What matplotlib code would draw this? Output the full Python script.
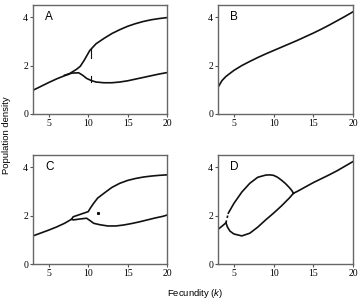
import matplotlib
matplotlib.use('Agg')
import matplotlib.pyplot as plt

plt.rcParams['mathtext.fontset'] = 'custom'
plt.rcParams['mathtext.it'] = 'Liberation Sans:italic'
plt.rcParams['mathtext.rm'] = 'Liberation Sans'

# panel A
a_main_k = [3, 4, 5, 6, 7, 7.5]
a_main_y = [0.98, 1.14, 1.30, 1.45, 1.58, 1.64]
a_up_k = [7.5, 8, 8.5, 9, 9.5, 10.2, 11, 12, 13, 14, 15, 16, 17, 18, 19, 20]
a_up_y = [1.64, 1.74, 1.84, 1.97, 2.22, 2.62, 2.90, 3.12, 3.32, 3.48, 3.62, 3.73, 3.82, 3.89, 3.94, 3.98]
a_lo_k = [7, 7.5, 8, 8.8, 9.3, 9.8, 10.4, 11, 12, 13, 14, 15, 16, 17, 18, 19, 20]
a_lo_y = [1.60, 1.65, 1.69, 1.70, 1.60, 1.47, 1.38, 1.32, 1.29, 1.29, 1.32, 1.37, 1.44, 1.51, 1.58, 1.65, 1.71]
a_bar_k = [10.4, 10.4]
a_bar_up = [2.32, 2.68]
a_bar_lo = [1.32, 1.57]

# panel B
b_k = [3, 3.5, 4, 5, 6, 7, 8, 9, 10, 11, 12, 13, 14, 15, 16, 17, 18, 19, 20]
b_y = [1.10, 1.38, 1.55, 1.80, 2.00, 2.17, 2.33, 2.48, 2.62, 2.76, 2.90, 3.04, 3.19, 3.34, 3.50, 3.67, 3.85, 4.03, 4.22]

# panel C
c_main_k = [3, 4, 5, 6, 7, 7.9]
c_main_y = [1.16, 1.28, 1.40, 1.53, 1.68, 1.85]
c_up_k = [7.9, 8.1, 9, 10, 10.3, 10.7, 11.2, 12, 13, 14, 15, 16, 17, 18, 19, 20]
c_up_y = [1.85, 1.95, 2.05, 2.16, 2.32, 2.51, 2.72, 2.92, 3.16, 3.33, 3.45, 3.53, 3.59, 3.63, 3.66, 3.68]
c_lo_k = [7.9, 8.1, 9, 9.8, 10.2, 10.7, 11.5, 12.5, 13.5, 14.5, 15.5, 16.5, 17.5, 18.5, 19.5, 20]
c_lo_y = [1.85, 1.82, 1.86, 1.89, 1.80, 1.68, 1.62, 1.57, 1.57, 1.61, 1.67, 1.74, 1.82, 1.90, 1.97, 2.02]
c_dot_k = [11.2]
c_dot_y = [2.12]

# panel D
d_main_k = [3, 3.5, 4.0]
d_main_y = [1.43, 1.56, 1.70]
d_dash_k = [4.0, 4.15, 4.3]
d_dash_y = [1.70, 1.90, 2.10]
d_up_k = [4.3, 5, 6, 7, 8, 9, 9.5, 10, 10.5, 11, 11.5, 12, 12.3, 12.5]
d_up_y = [2.10, 2.50, 2.97, 3.33, 3.58, 3.67, 3.68, 3.66, 3.58, 3.46, 3.32, 3.15, 3.03, 2.92]
d_lo_k = [4.0, 4.2, 4.5, 5, 6, 7, 8, 9, 10, 11, 12, 12.5]
d_lo_y = [1.70, 1.52, 1.36, 1.24, 1.16, 1.27, 1.52, 1.82, 2.10, 2.40, 2.73, 2.92]
d_tail_k = [12.5, 13, 14, 15, 16, 17, 18, 19, 20]
d_tail_y = [2.92, 3.00, 3.18, 3.36, 3.52, 3.68, 3.85, 4.04, 4.23]

x_ticks = [5, 10, 15, 20]
y_ticks = [0, 2, 4]
panel_labels = ['A', 'B', 'C', 'D']

lc = '#111111'
lw = 1.2

fig = plt.figure(figsize=(3.62, 3.07), dpi=100)
boxes = [
    [33/362, 1 - 114/307, 134/362, 109/307],
    [218/362, 1 - 114/307, 135/362, 109/307],
    [33/362, 1 - 264/307, 134/362, 109/307],
    [218/362, 1 - 264/307, 135/362, 109/307],
]
axs = [fig.add_axes(b) for b in boxes]

ax = axs[0]
ax.plot(a_main_k, a_main_y, color=lc, lw=lw)
ax.plot(a_up_k, a_up_y, color=lc, lw=lw)
ax.plot(a_lo_k, a_lo_y, color=lc, lw=lw)
ax.plot(a_bar_k, a_bar_up, color=lc, lw=0.8)
ax.plot(a_bar_k, a_bar_lo, color=lc, lw=0.8)

ax = axs[1]
ax.plot(b_k, b_y, color=lc, lw=lw)

ax = axs[2]
ax.plot(c_main_k, c_main_y, color=lc, lw=lw)
ax.plot(c_up_k, c_up_y, color=lc, lw=lw)
ax.plot(c_lo_k, c_lo_y, color=lc, lw=lw)
ax.plot(c_dot_k, c_dot_y, 's', color=lc, ms=1.2)

ax = axs[3]
ax.plot(d_main_k, d_main_y, color=lc, lw=lw)
ax.plot(d_dash_k, d_dash_y, color=lc, lw=lw, ls=(0, (1.5, 1.5)))
ax.plot(d_up_k, d_up_y, color=lc, lw=lw)
ax.plot(d_lo_k, d_lo_y, color=lc, lw=lw)
ax.plot(d_tail_k, d_tail_y, color=lc, lw=lw)

for ax, lab in zip(axs, panel_labels):
    ax.set_xlim(3, 20)
    ax.set_ylim(0, 4.5)
    ax.set_xticks(x_ticks)
    ax.set_yticks(y_ticks)
    ax.tick_params(length=2.5, width=0.8, color='#555555', labelsize=7, pad=1)
    for t in ax.get_xticklabels() + ax.get_yticklabels():
        t.set_fontfamily('Liberation Serif')
    for s in ax.spines.values():
        s.set_color('#666666')
        s.set_linewidth(1.0)
    ax.text(0.09, 0.89, lab, transform=ax.transAxes, fontsize=8.5,
            family='Liberation Sans', va='center', ha='left')

fig.text(0.018, 0.56, 'Population density', rotation=90, fontsize=6.8,
         family='Liberation Sans', va='center', ha='center')
fig.text(0.54, 0.043, 'Fecundity ($\\mathit{k}$)', fontsize=6.8,
         family='Liberation Sans', ha='center', va='center')

plt.savefig('out.png', dpi=100)
plt.close(fig)
